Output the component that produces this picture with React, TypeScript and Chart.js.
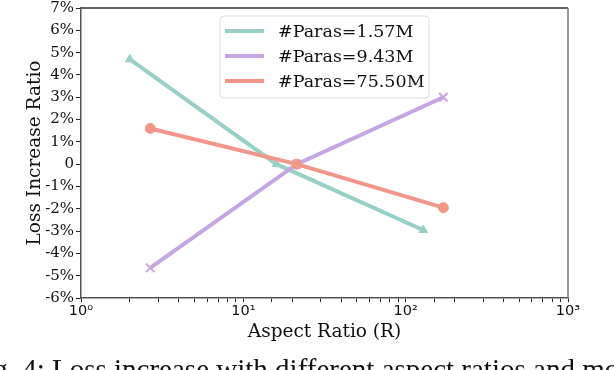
import React, { useEffect, useRef } from "react";
import { Chart, registerables } from "chart.js";

Chart.register(...registerables);

// ---- data ----
const seriesNames = ["#Paras=1.57M", "#Paras=9.43M", "#Paras=75.50M"];
const ratiosSmall = [2, 16, 128];
const lossSmall = [4.7, 0, -2.95];
const ratiosMid = [2.67, 21.33, 170.67];
const lossMid = [-4.65, 0, 3.0];
const ratiosLarge = [2.67, 21.33, 170.67];
const lossLarge = [1.6, 0, -1.95];
const xTickLabels: Record<number, string> = { 1: "10⁰", 10: "10¹", 100: "10²", 1000: "10³" };

const colors = ["rgb(152,208,199)", "rgb(196,166,226)", "rgb(242,150,137)"];
const markers = ["triangle", "crossRot", "circle"];
const SERIF = "'DejaVu Serif', serif";

const legendPlugin = {
  id: "customLegend",
  afterDraw(chart: any) {
    const ctx = chart.ctx;
    const area = chart.chartArea;
    ctx.save();
    // top & right spines
    ctx.lineWidth = 1.5;
    ctx.strokeStyle = "#333";
    ctx.beginPath();
    ctx.moveTo(area.left, area.top);
    ctx.lineTo(area.right, area.top);
    ctx.stroke();
    ctx.strokeStyle = "#777";
    ctx.beginPath();
    ctx.moveTo(area.right, area.top);
    ctx.lineTo(area.right, area.bottom);
    ctx.stroke();

    // legend box
    const x0 = 220, y0 = 16, w = 209, h = 82, r = 4;
    ctx.beginPath();
    ctx.moveTo(x0 + r, y0);
    ctx.arcTo(x0 + w, y0, x0 + w, y0 + h, r);
    ctx.arcTo(x0 + w, y0 + h, x0, y0 + h, r);
    ctx.arcTo(x0, y0 + h, x0, y0, r);
    ctx.arcTo(x0, y0, x0 + w, y0, r);
    ctx.closePath();
    ctx.fillStyle = "rgba(255,255,255,0.85)";
    ctx.fill();
    ctx.lineWidth = 1;
    ctx.strokeStyle = "#dcdcdc";
    ctx.stroke();

    ctx.font = "17.5px " + SERIF;
    ctx.textBaseline = "middle";
    ctx.textAlign = "left";
    seriesNames.forEach((name, i) => {
      const y = 31 + i * 25;
      ctx.strokeStyle = colors[i];
      ctx.lineWidth = 4;
      ctx.beginPath();
      ctx.moveTo(225, y);
      ctx.lineTo(264, y);
      ctx.stroke();
      ctx.fillStyle = "#111";
      ctx.fillText(name, 278, y + 1);
    });
    ctx.restore();
  },
};

function makeData(xs: number[], ys: number[]) {
  return xs.map((x, i) => ({ x, y: ys[i] }));
}

export default function App() {
  const ref = useRef<HTMLCanvasElement>(null);

  useEffect(() => {
    if (!ref.current) return;
    const allX = [ratiosSmall, ratiosMid, ratiosLarge];
    const allY = [lossSmall, lossMid, lossLarge];
    const chart = new Chart(ref.current, {
      type: "line",
      data: {
        datasets: seriesNames.map((name, i) => ({
          label: name,
          data: makeData(allX[i], allY[i]),
          borderColor: colors[i],
          backgroundColor: colors[i],
          borderWidth: 4,
          pointStyle: markers[i] as any,
          pointRadius: i === 1 ? 6 : 5,
          pointBorderWidth: i === 1 ? 2 : 1,
          pointBorderColor: colors[i],
          pointBackgroundColor: colors[i],
          tension: 0,
          order: 3 - i,
        })),
      },
      options: {
        animation: false,
        responsive: false,
        devicePixelRatio: 1,
        layout: { padding: { left: 18, right: 46, top: 7, bottom: 27 } },
        plugins: { legend: { display: false }, tooltip: { enabled: false } },
        scales: {
          x: {
            type: "logarithmic",
            min: 1,
            max: 1000,
            afterFit: (s: any) => {
              s.height = 45;
              s.paddingLeft = 0;
              s.paddingRight = 0;
            },
            border: { display: true, color: "#555", width: 1.5 },
            grid: { drawOnChartArea: false, drawTicks: true, tickLength: 4, tickColor: "#222", tickWidth: 1 },
            ticks: {
              autoSkip: false,
              maxRotation: 0,
              padding: 1,
              color: "#111",
              font: { family: "'DejaVu Sans', sans-serif", size: 14.5 },
              callback: (v: any) => xTickLabels[Number(v)] ?? "",
            },
            title: {
              display: true,
              text: "Aspect Ratio (R)",
              color: "#111",
              font: { family: SERIF, size: 18.5 },
              padding: { top: 0, bottom: 0 },
            },
          },
          y: {
            type: "linear",
            min: -6,
            max: 7,
            afterFit: (s: any) => {
              s.width = 63;
              s.paddingTop = 0;
              s.paddingBottom = 0;
            },
            border: { display: true, color: "#555", width: 1.5 },
            grid: { drawOnChartArea: false, drawTicks: true, tickLength: 5, tickColor: "#222" },
            ticks: {
              autoSkip: false,
              stepSize: 1,
              padding: 2,
              color: "#111",
              font: { family: SERIF, size: 15 },
              callback: (v: any) => (Number(v) === 0 ? "0" : `${v}%`),
            },
            title: {
              display: true,
              text: "Loss Increase Ratio",
              color: "#111",
              font: { family: SERIF, size: 18.5 },
              padding: { top: 6, bottom: 0 },
            },
          },
        },
      },
      plugins: [legendPlugin],
    });
    return () => chart.destroy();
  }, []);

  return (
    <div style={{ position: "fixed", left: 0, top: 0, width: 614, height: 370, overflow: "hidden", background: "#fff" }}>
      <canvas ref={ref} width={614} height={370} style={{ width: 614, height: 370, display: "block" }} />
      <div
        style={{
          position: "absolute",
          left: -31,
          top: 355,
          whiteSpace: "nowrap",
          fontFamily: "'Liberation Serif', serif",
          fontSize: 29,
          lineHeight: "29px",
          color: "#111",
        }}
      >
        Fig. 4: Loss increase with different aspect ratios and model sizes.
      </div>
    </div>
  );
}
